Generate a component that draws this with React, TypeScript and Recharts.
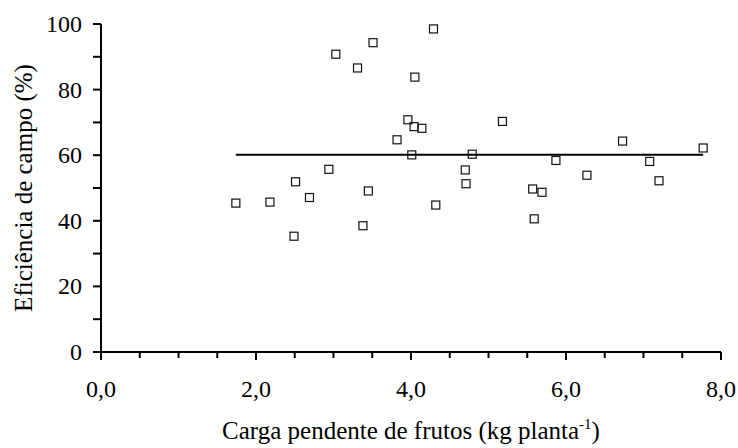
import { Label, Scatter, ScatterChart, XAxis, YAxis } from 'recharts'

// carga pendente (kg planta-1) x eficiência de campo (%)
const cargaKg = [
  1.74, 2.18, 2.49, 2.51, 2.69, 2.94, 3.03, 3.31, 3.38, 3.45, 3.51,
  3.82, 3.96, 4.01, 4.04, 4.05, 4.14, 4.29, 4.32, 4.7, 4.71, 4.79,
  5.18, 5.57, 5.59, 5.69, 5.87, 6.27, 6.73, 7.08, 7.2, 7.77,
]
const eficiencia = [
  45.4, 45.7, 35.3, 51.9, 47.1, 55.7, 90.8, 86.6, 38.5, 49.1, 94.3,
  64.7, 70.8, 60.1, 68.7, 83.8, 68.2, 98.5, 44.8, 55.5, 51.3, 60.3,
  70.3, 49.7, 40.6, 48.7, 58.4, 53.9, 64.3, 58.1, 52.2, 62.2,
]

// ajuste: média constante
const lineX = [1.74, 7.77]
const lineY = [60.1, 60.1]

const xTicks = [0, 0.5, 1, 1.5, 2, 2.5, 3, 3.5, 4, 4.5, 5, 5.5, 6, 6.5, 7, 7.5, 8]
const xLabels = [0, 2, 4, 6, 8]
const yTicks = [0, 10, 20, 30, 40, 50, 60, 70, 80, 90, 100]
const yLabels = [0, 20, 40, 60, 80, 100]

const points = cargaKg.map((x, i) => ({ x, y: eficiencia[i] }))
const fitLine = lineX.map((x, i) => ({ x, y: lineY[i] }))

const FONT = 'Liberation Serif'

function XTick({ x, y, payload }: any) {
  const v = payload.value as number
  const major = xLabels.includes(v)
  return (
    <g>
      <line x1={x} y1={y} x2={x} y2={y + (major ? 8 : 6)} stroke="#000" strokeWidth={2} />
      {major ? (
        <text x={x} y={y + 45} textAnchor="middle" style={{ fontFamily: FONT, fontSize: 24 }} fill="#000">
          {v.toFixed(1).replace('.', ',')}
        </text>
      ) : null}
    </g>
  )
}

function YTick({ x, y, payload }: any) {
  const v = payload.value as number
  const major = yLabels.includes(v)
  return (
    <g>
      <line x1={x} y1={y} x2={x - 8} y2={y} stroke="#000" strokeWidth={2} />
      {major ? (
        <text x={x - 19} y={y + 8} textAnchor="end" style={{ fontFamily: FONT, fontSize: 24 }} fill="#000">
          {String(v)}
        </text>
      ) : null}
    </g>
  )
}

function OpenSquare({ cx, cy }: any) {
  return <rect x={cx - 4} y={cy - 4} width={8} height={8} fill="none" stroke="#111" strokeWidth={1.2} />
}

export default function App() {
  return (
    <div style={{ position: 'absolute', left: 0, top: 0, background: '#fff', fontFamily: FONT }}>
      <ScatterChart width={738} height={448} margin={{ top: 24, right: 17, bottom: 36, left: 41 }} style={{ fontFamily: FONT }}>
        <XAxis
          type="number"
          dataKey="x"
          domain={[0, 8]}
          ticks={xTicks}
          interval={0}
          height={60}
          tickSize={0}
          tickMargin={0}
          tickLine={false}
          axisLine={{ stroke: '#000', strokeWidth: 2 }}
          tick={(props: any) => <XTick {...props} />}
        >
          <Label
            content={({ viewBox }: any) => (
              <text x={viewBox.x + viewBox.width / 2} y={439} textAnchor="middle" style={{ fontFamily: FONT, fontSize: 25 }} fill="#000">
                Carga pendente de frutos (kg planta
                <tspan dy={-10} style={{ fontSize: 15 }}>-1</tspan>
                <tspan dy={10}>)</tspan>
              </text>
            )}
          />
        </XAxis>
        <YAxis
          type="number"
          dataKey="y"
          domain={[0, 100]}
          ticks={yTicks}
          interval={0}
          width={60}
          tickSize={0}
          tickMargin={0}
          tickLine={false}
          axisLine={{ stroke: '#000', strokeWidth: 2 }}
          tick={(props: any) => <YTick {...props} />}
        >
          <Label
            content={({ viewBox }: any) => (
              <text
                x={32}
                y={viewBox.y + viewBox.height / 2}
                transform={`rotate(-90, 32, ${viewBox.y + viewBox.height / 2})`}
                textAnchor="middle"
                style={{ fontFamily: FONT, fontSize: 25 }}
                fill="#000"
              >
                Eficiência de campo (%)
              </text>
            )}
          />
        </YAxis>
        <Scatter data={fitLine} line={{ stroke: '#000', strokeWidth: 2 }} shape={() => null} isAnimationActive={false} />
        <Scatter data={points} shape={<OpenSquare />} isAnimationActive={false} />
      </ScatterChart>
    </div>
  )
}
